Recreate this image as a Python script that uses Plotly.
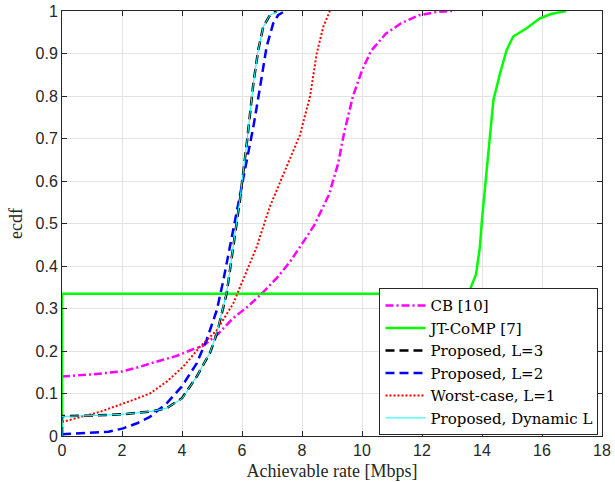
import plotly.graph_objects as go

# ---- data ----
cb_x = [0, 1, 2, 2.6, 3.2, 3.8, 4.4, 4.7, 5.2, 5.7, 6.2, 6.7, 7.2, 7.6, 8.0, 8.4, 8.9, 9.2, 9.4, 9.7, 10.0, 10.3, 10.8, 11.3, 11.9, 12.5, 13.0]
cb_y = [0.14, 0.145, 0.152, 0.163, 0.176, 0.188, 0.205, 0.212, 0.24, 0.277, 0.305, 0.338, 0.375, 0.41, 0.452, 0.495, 0.568, 0.64, 0.712, 0.80, 0.86, 0.906, 0.947, 0.971, 0.99, 0.998, 1.0]

jt_x = [0, 0, 13.3, 13.6, 13.8, 13.93, 14.0, 14.27, 14.38, 14.6, 14.82, 15.04, 15.5, 15.93, 16.3, 16.8]
jt_y = [0, 0.335, 0.335, 0.345, 0.38, 0.445, 0.51, 0.712, 0.79, 0.853, 0.908, 0.94, 0.96, 0.983, 0.993, 1.0]

l3_x = [0, 0, 1, 2, 3, 3.5, 4.0, 4.49, 4.93, 5.16, 5.49, 5.71, 5.93, 6.16, 6.38, 6.54, 6.71, 6.93, 7.16]
l3_y = [0, 0.047, 0.048, 0.051, 0.058, 0.066, 0.089, 0.14, 0.195, 0.24, 0.336, 0.445, 0.555, 0.689, 0.83, 0.908, 0.963, 0.99, 1.0]

l2_x = [0, 1, 1.55, 2.04, 2.5, 2.93, 3.49, 3.99, 4.49, 4.82, 5.16, 5.38, 5.6, 6.04, 6.38, 6.6, 6.82, 7.04, 7.2, 7.43]
l2_y = [0.004, 0.007, 0.01, 0.018, 0.03, 0.045, 0.077, 0.116, 0.171, 0.226, 0.296, 0.367, 0.445, 0.602, 0.728, 0.82, 0.916, 0.971, 0.99, 1.0]

l1_x = [0, 1.27, 2.38, 2.93, 3.49, 4.04, 4.6, 5.16, 5.71, 6.27, 6.49, 6.93, 7.49, 7.93, 8.27, 8.49, 8.71, 8.93]
l1_y = [0.033, 0.057, 0.085, 0.10, 0.128, 0.163, 0.21, 0.249, 0.312, 0.406, 0.445, 0.54, 0.634, 0.708, 0.80, 0.90, 0.963, 1.0]

dyn_x = [0, 0, 1, 2, 3, 3.5, 4.0, 4.49, 4.93, 5.16, 5.49, 5.71, 5.93, 6.16, 6.38, 6.54, 6.71, 6.93, 7.2]
dyn_y = [0, 0.046, 0.048, 0.051, 0.058, 0.066, 0.088, 0.14, 0.196, 0.242, 0.338, 0.447, 0.557, 0.69, 0.83, 0.908, 0.963, 0.99, 1.0]

x_ticks = list(range(0, 19, 2))
y_ticks = [0, 0.1, 0.2, 0.3, 0.4, 0.5, 0.6, 0.7, 0.8, 0.9, 1]
y_tick_labels = ["0", "0.1", "0.2", "0.3", "0.4", "0.5", "0.6", "0.7", "0.8", "0.9", "1"]

fig = go.Figure()
fig.add_trace(go.Scatter(x=cb_x, y=cb_y, mode="lines", name="CB [10]",
                         line=dict(color="#ff00ff", width=2.5, dash="8px,3px,2px,3px")))
fig.add_trace(go.Scatter(x=jt_x, y=jt_y, mode="lines", name="JT-CoMP [7]",
                         line=dict(color="#00ff00", width=2.5)))
fig.add_trace(go.Scatter(x=l3_x, y=l3_y, mode="lines", name="Proposed, L=3",
                         line=dict(color="black", width=2.5, dash="9px,5px")))
fig.add_trace(go.Scatter(x=l2_x, y=l2_y, mode="lines", name="Proposed, L=2",
                         line=dict(color="#0000ff", width=2.5, dash="9px,5px")))
fig.add_trace(go.Scatter(x=l1_x, y=l1_y, mode="lines", name="Worst-case, L=1",
                         line=dict(color="#ff0000", width=2, dash="2px,2px")))
fig.add_trace(go.Scatter(x=dyn_x, y=dyn_y, mode="lines", name="Proposed, Dynamic L",
                         line=dict(color="#00ffff", width=1)))

axis_common = dict(showgrid=True, gridcolor="#e3e3e3", gridwidth=1,
                   showline=True, linecolor="#262626", linewidth=1, mirror="ticks",
                   ticks="inside", ticklen=5, tickcolor="#262626", zeroline=False,
                   automargin=False,
                   tickfont=dict(family="Liberation Sans, Arial", size=16, color="#262626"))

fig.update_xaxes(range=[0, 18], tickvals=x_ticks, **axis_common,
                 title=dict(text="Achievable rate [Mbps]", standoff=6,
                            font=dict(family="Liberation Serif, Times New Roman", size=18, color="#262626")))
fig.update_yaxes(range=[0, 1], tickvals=y_ticks, ticktext=y_tick_labels, **axis_common,
                 title=dict(text="ecdf", standoff=8,
                            font=dict(family="Liberation Serif, Times New Roman", size=18, color="#262626")))

fig.update_layout(
    width=615, height=482,
    margin=dict(l=62, r=13, t=11, b=46, autoexpand=False),
    paper_bgcolor="white", plot_bgcolor="white",
    legend=dict(x=0.9935, xanchor="right", y=0.002, yanchor="bottom",
                bgcolor="white", bordercolor="#262626", borderwidth=1,
                font=dict(family="DejaVu Serif", size=15, color="black"),
                tracegroupgap=0, itemwidth=40),
    showlegend=True,
)

fig.write_html("out.html", config={"displayModeBar": False},
               post_script="document.body.style.margin='0px';")
